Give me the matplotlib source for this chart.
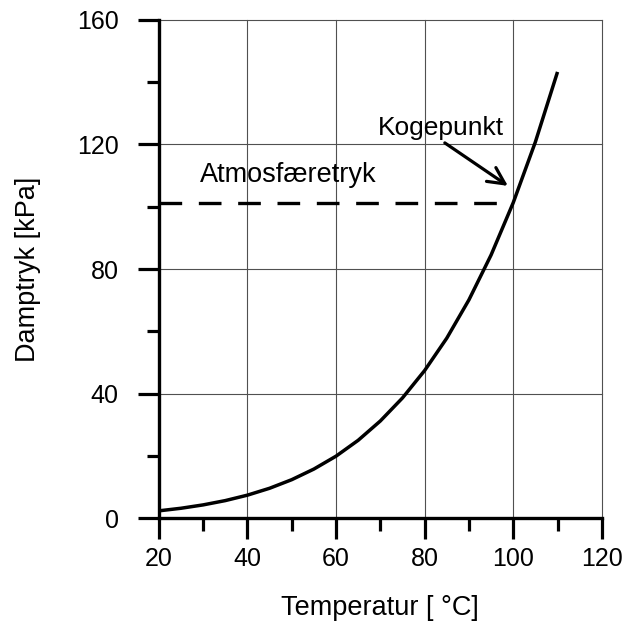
import numpy as np
import matplotlib.pyplot as plt

plt.rcParams['font.family'] = ['Liberation Sans', 'DejaVu Sans']

# damptryk for vand, aflaest fra figuren
temp = [20, 25, 30, 35, 40, 45, 50, 55, 60, 65, 70, 75, 80, 85, 90, 95, 100, 105, 110]
tryk = [2.34, 3.17, 4.25, 5.63, 7.38, 9.59, 12.35, 15.76, 19.9, 25.0, 31.2,
        38.6, 47.4, 57.8, 70.1, 84.5, 101.3, 120.8, 143.3]
atm_x = [20, 100]
atm_y = [101.3, 101.3]

fig = plt.figure(figsize=(6.23, 6.22), dpi=100)
ax = fig.add_axes([0.255, 0.167, 0.711, 0.801])

ax.plot(temp, tryk, color='black', lw=2.5, solid_capstyle='butt')
ax.plot(atm_x, atm_y, color='black', lw=2.4, dashes=(6.8, 5.0))

ax.set_xlim(20, 120)
ax.set_ylim(0, 160)
ax.set_xticks(np.arange(20, 121, 20))
ax.set_xticks(np.arange(30, 120, 20), minor=True)
ax.set_yticks(np.arange(0, 161, 40))
ax.set_yticks(np.arange(20, 160, 40), minor=True)

for g in ax.get_xgridlines() + ax.get_ygridlines():
    g.set_clip_on(False)
ax.grid(True, which='major', color='#505050', lw=0.8)
ax.set_axisbelow(True)

ax.spines['top'].set_visible(False)
ax.spines['right'].set_visible(False)
ax.spines['left'].set_linewidth(2.4)
ax.spines['bottom'].set_linewidth(2.4)
ax.tick_params(which='major', length=15, width=2.3, labelsize=18)
ax.tick_params(which='minor', length=9, width=2.3)
ax.tick_params(axis='x', which='major', pad=6)
ax.tick_params(axis='y', which='major', pad=14)

ax.text(29.3, 108, 'Atmosfæretryk', fontsize=19.5)
ax.annotate('Kogepunkt', xy=(98.8, 106.7), xytext=(69.4, 123), fontsize=19,
            arrowprops=dict(arrowstyle='->', color='black', lw=2.3,
                            mutation_scale=30, shrinkA=0, shrinkB=0,
                            relpos=(0.5, 0)))

ax.set_xlabel('Temperatur [ °C]', fontsize=19.5, labelpad=17)
ax.set_ylabel('Damptryk [kPa]', fontsize=19.5, labelpad=26)

fig.savefig('out.png', dpi=100)
